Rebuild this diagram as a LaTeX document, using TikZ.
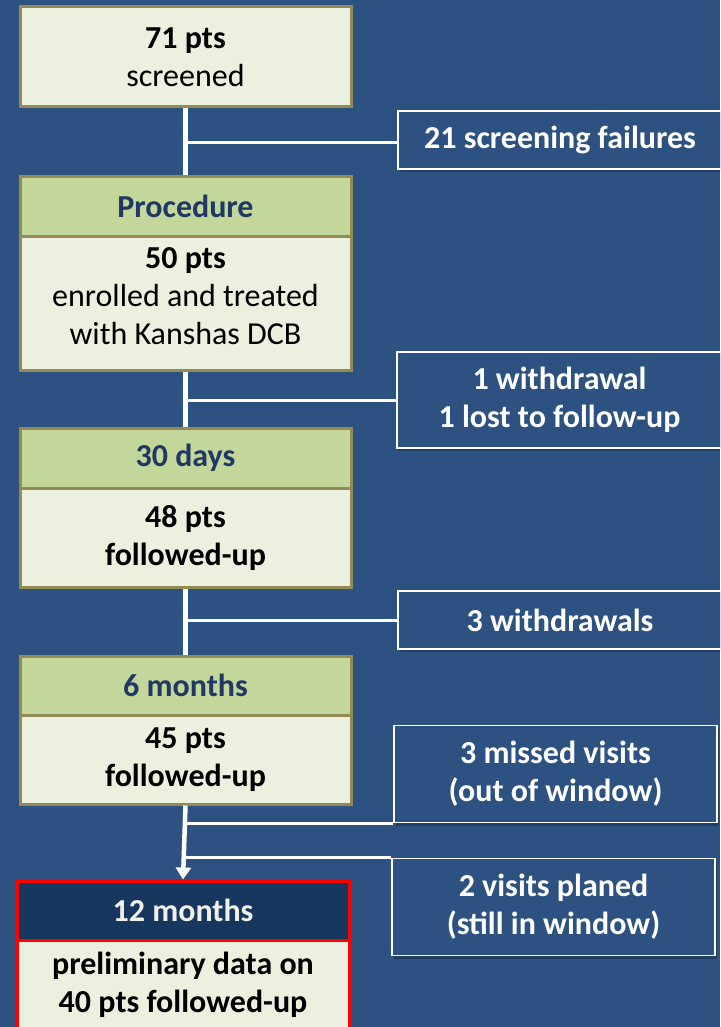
\documentclass[tikz,border=0pt]{standalone}
\usepackage{fontspec}
\setmainfont{Carlito}
\usepackage{tikz}
\usetikzlibrary{arrows.meta, positioning, shadows}

\definecolor{bgblue}{RGB}{45,82,130}
\definecolor{olivebrd}{RGB}{148,138,84}
\definecolor{bodyfill}{RGB}{235,241,222}
\definecolor{headfill}{RGB}{196,215,155}
\definecolor{headtext}{RGB}{31,56,100}
\definecolor{navyhead}{RGB}{23,55,94}
\definecolor{lighttext}{RGB}{240,240,236}

\begin{document}
\begin{tikzpicture}[x=1pt, y=-1pt,
    every node/.style={font=\fontsize{32}{38}\selectfont, align=center, inner sep=0pt},
    stagebody/.style={draw=olivebrd, line width=3pt, fill=bodyfill, minimum width=331pt},
    stagehead/.style={stagebody, fill=headfill, text=headtext, font=\fontsize{32}{38}\selectfont\bfseries},
    boldbody/.style={stagebody, font=\fontsize{32}{38}\selectfont\bfseries},
    exitbox/.style={draw=white, line width=1.5pt, fill=bgblue, text=white,
        font=\fontsize{32}{38}\selectfont\bfseries,
        drop shadow={shadow xshift=2pt, shadow yshift=-3pt, opacity=0.25, fill=black}},
    trunk/.style={draw=white, line width=4.5pt},
    branch/.style={draw=white, line width=3pt}]
    \useasboundingbox (0,0) rectangle (720,1027);
    \clip (0,0) rectangle (720,1027);
    \fill[bgblue] (0,0) rectangle (720,1027);

    \node[stagebody, minimum height=100pt] (scr) at (185.5,57) {\textbf{71 pts}\\screened};
    \node[stagebody, minimum height=147pt] (procb) at (185.5,296.5) {\textbf{50 pts}\\enrolled and treated\\with Kanshas DCB};
    \node[stagehead, minimum height=59pt] (proch) at (185.5,206.5) {Procedure};
    \node[boldbody, minimum height=99pt] (d30b) at (185.5,537.5) {48 pts\\followed-up};
    \node[stagehead, minimum height=60pt] (d30h) at (185.5,458) {30 days};
    \node[boldbody, minimum height=89pt] (m6b) at (185.5,759.5) {45 pts\\followed-up};
    \node[stagehead, minimum height=59pt] (m6h) at (185.5,685.5) {6 months};
    \node[boldbody, draw=red, minimum width=332pt, minimum height=130pt] (m12b) at (183,985) {preliminary data on\\40 pts followed-up};
    \node[boldbody, draw=red, fill=navyhead, text=lighttext, minimum width=332pt, minimum height=59pt] (m12h) at (183,910.5) {12 months};

    \node[exitbox, minimum width=324pt, minimum height=58pt] (fail) at (560,140) {21 screening failures};
    \node[exitbox, minimum width=325pt, minimum height=96pt] (wd1) at (559.5,400) {1 withdrawal\\1 lost to follow-up};
    \node[exitbox, minimum width=324pt, minimum height=58pt] (wd3) at (560,620) {3 withdrawals};
    \node[exitbox, minimum width=323pt, minimum height=97pt] (missed) at (555.5,774) {3 missed visits\\(out of window)};
    \node[exitbox, minimum width=323pt, minimum height=97pt] (planned) at (553.5,907) {2 visits planed\\(still in window)};

    \coordinate (failin) at ([yshift=-3pt]fail.west);
    \draw[trunk] (scr.south) -- (proch.north);
    \draw[trunk] (procb.south) -- (d30h.north);
    \draw[trunk] (d30b.south) -- (m6h.north);
    \draw[trunk, -{Triangle[width=15pt, length=12pt]}] (m6b.south) -- (m12h.north);
    \draw[branch] (scr.south |- failin) -- (failin);
    \draw[branch] (procb.south |- wd1.west) -- (wd1.west);
    \draw[branch] (d30b.south |- wd3.west) -- (wd3.west);
    \draw[branch] (m6b.south |- missed.south west) -- (missed.south west);
    \draw[branch] (m6b.south |- planned.north west) -- (planned.north west);
\end{tikzpicture}
\end{document}
